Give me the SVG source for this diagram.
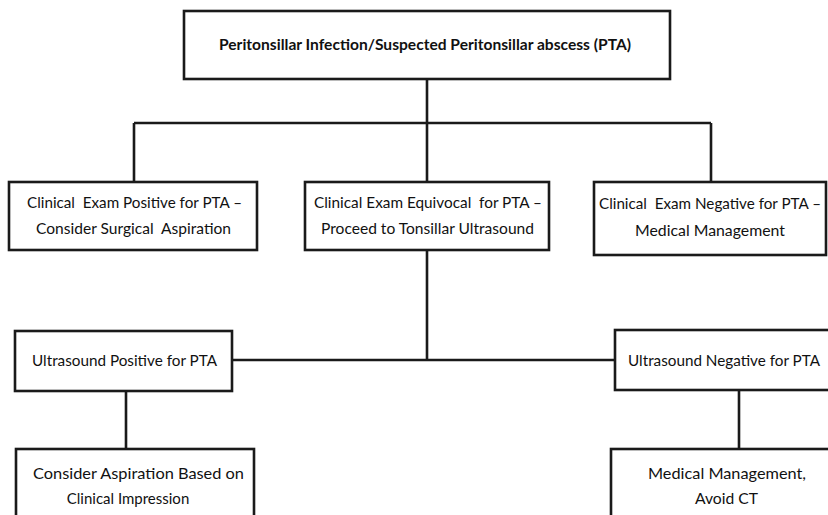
<svg xmlns="http://www.w3.org/2000/svg" width="828" height="515" viewBox="0 0 828 515">
<style>
.box{fill:#fff;stroke:#1a1a1a;stroke-width:2.6}
.ln{fill:none;stroke:#1a1a1a;stroke-width:2.6}
text{font-family:Lato,"Open Sans","Liberation Sans",sans-serif;font-size:15px;fill:#111}
.b{font-weight:bold;font-size:14.5px}
</style>
<rect width="828" height="515" fill="#fff"/>
<g id="connectors">
<path class="ln" d="M427,79 V182 M134,123 H711 M134,123 V182 M711,123 V182"/>
<path class="ln" d="M427,250 V360 M232,360 H615 M126,391 V449 M739,390 V449"/>
</g>
<g id="n-top">
<rect class="box" x="184" y="11" width="486" height="68"/>
<text class="b" x="425" y="50" text-anchor="middle" textLength="412" lengthAdjust="spacingAndGlyphs">Peritonsillar Infection/Suspected Peritonsillar abscess (PTA)</text>
</g>
<g id="n-pos">
<rect class="box" x="9" y="182" width="248" height="68"/>
<text x="134.5" y="208" text-anchor="middle" textLength="215" lengthAdjust="spacingAndGlyphs" xml:space="preserve">Clinical  Exam Positive for PTA –</text>
<text x="133.5" y="234" text-anchor="middle" textLength="195" lengthAdjust="spacingAndGlyphs" xml:space="preserve">Consider Surgical  Aspiration</text>
</g>
<g id="n-equiv">
<rect class="box" x="305" y="182" width="244" height="68"/>
<text x="428" y="208" text-anchor="middle" textLength="228" lengthAdjust="spacingAndGlyphs" xml:space="preserve">Clinical Exam Equivocal  for PTA –</text>
<text x="427.5" y="234" text-anchor="middle" textLength="213" lengthAdjust="spacingAndGlyphs">Proceed to Tonsillar Ultrasound</text>
</g>
<g id="n-neg">
<rect class="box" x="594" y="182" width="232" height="73"/>
<text x="710" y="209" text-anchor="middle" textLength="222" lengthAdjust="spacingAndGlyphs" xml:space="preserve">Clinical  Exam Negative for PTA –</text>
<text x="710" y="236" text-anchor="middle" textLength="150" lengthAdjust="spacingAndGlyphs">Medical Management</text>
</g>
<g id="n-uspos">
<rect class="box" x="15" y="331" width="217" height="60"/>
<text x="124.5" y="366" text-anchor="middle" textLength="185" lengthAdjust="spacingAndGlyphs">Ultrasound Positive for PTA</text>
</g>
<g id="n-usneg">
<rect class="box" x="615" y="330" width="240" height="60"/>
<text x="724" y="366" text-anchor="middle" textLength="192" lengthAdjust="spacingAndGlyphs">Ultrasound Negative for PTA</text>
</g>
<g id="n-asp">
<rect class="box" x="16" y="449" width="238" height="90"/>
<text x="138.5" y="479" text-anchor="middle" textLength="211" lengthAdjust="spacingAndGlyphs">Consider Aspiration Based on</text>
<text x="128" y="504" text-anchor="middle">Clinical Impression</text>
</g>
<g id="n-med">
<rect class="box" x="611" y="449" width="240" height="90"/>
<text x="727" y="479" text-anchor="middle" textLength="158" lengthAdjust="spacingAndGlyphs">Medical Management,</text>
<text x="726.5" y="504" text-anchor="middle" textLength="63" lengthAdjust="spacingAndGlyphs">Avoid CT</text>
</g>
</svg>
